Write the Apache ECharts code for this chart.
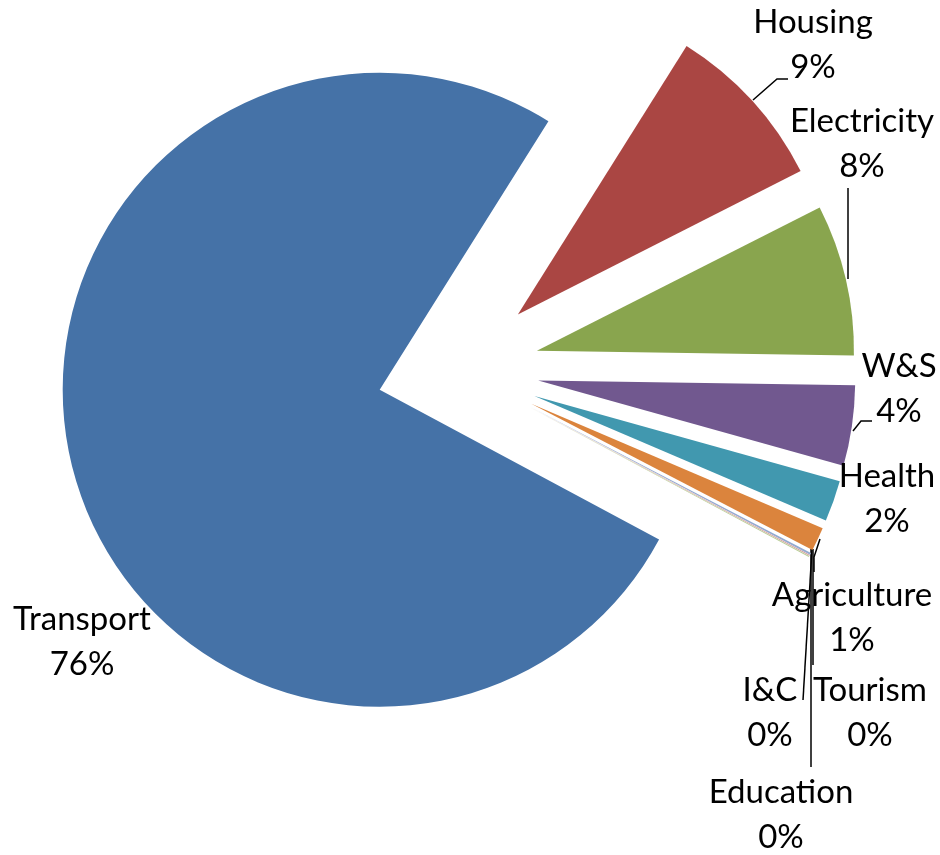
<!DOCTYPE html>
<html>
<head>
<meta charset="utf-8">
<script src="https://cdn.jsdelivr.net/npm/echarts@6/dist/echarts.min.js"></script>
<style>
html,body{margin:0;padding:0;background:#fff;}
#chart{width:940px;height:855px;}
</style>
</head>
<body>
<div id="chart"></div>
<script>
// Data
const categories = ['Transport','Housing','Electricity','W&S','Health','Agriculture','Tourism','Education','I&C'];
const values = [76.1, 8.6, 7.7, 4.1, 2.1, 1.2, 0.1, 0.05, 0.05];
const colors = ['#4572A7','#AA4643','#89A54E','#71588F','#4198AF','#DB843D','#93A9CF','#D19392','#B9CD96'];

// Label placement (centre of the two-line label block) and leader lines
const labelPos = {
  'Transport':   [82, 642],
  'Housing':     [813, 45],
  'Electricity': [862, 144],
  'W&S':         [899, 389],
  'Health':      [887, 499],
  'Agriculture': [852, 618],
  'Tourism':     [870, 713],
  'Education':   [781, 815],
  'I&C':         [770, 713]
};
const leaders = {
  'Housing':     [[753,100],[777,79],[788,79]],
  'Electricity': [[848,279],[848,188]],
  'W&S':         [[853,431],[861,421],[872,421]],
  'Agriculture': [[820,539],[814,557],[814,572]],
  'Tourism':     [[813,549],[813,665]],
  'Education':   [[811,549],[811,767]],
  'I&C':         [[812,549],[803,700]]
};

// Pie geometry / explosion
const CX = 458, CY = 369, R = 317, EXPLODE = 81;
const FIRST_ANGLE = 118.2; // degrees clockwise from 12 o'clock
const total = values.reduce((a, b) => a + b, 0);

const chart = echarts.init(document.getElementById('chart'), null, {renderer:'canvas'});

let cum = 0;
const series = categories.map((name, k) => {
  const v = values[k];
  const mid = (FIRST_ANGLE + (cum + v / 2) / total * 360) * Math.PI / 180;
  cum += v;
  const center = [CX + EXPLODE * Math.sin(mid), CY - EXPLODE * Math.cos(mid)];
  return {
    type: 'pie',
    silent: true,
    center: center,
    radius: [0, R],
    startAngle: 90 - FIRST_ANGLE,
    clockwise: true,
    avoidLabelOverlap: false,
    emphasis: {disabled: true},
    data: categories.map((c, i) => ({
      name: c,
      value: values[i],
      itemStyle: {color: i === k ? colors[i] : 'rgba(0,0,0,0)', borderWidth: 0},
      label: {show: i === k},
      labelLine: {show: i === k && !!leaders[c]}
    })),
    label: {
      position: 'outside',
      formatter: p => p.name + '\n' + Math.round(p.percent) + '%',
      fontFamily: 'Lato',
      fontSize: 33,
      lineHeight: 45,
      color: '#000',
      align: 'center'
    },
    labelLine: {
      lineStyle: {color: '#000', width: 1.5}
    },
    labelLayout: function (params) {
      const nm = categories[params.dataIndex];
      const pos = labelPos[nm];
      const res = {x: pos[0], y: pos[1], align: 'center', verticalAlign: 'middle'};
      if (leaders[nm]) res.labelLinePoints = leaders[nm];
      return res;
    }
  };
});

chart.setOption({animation: false, series: series});
</script>
</body>
</html>
